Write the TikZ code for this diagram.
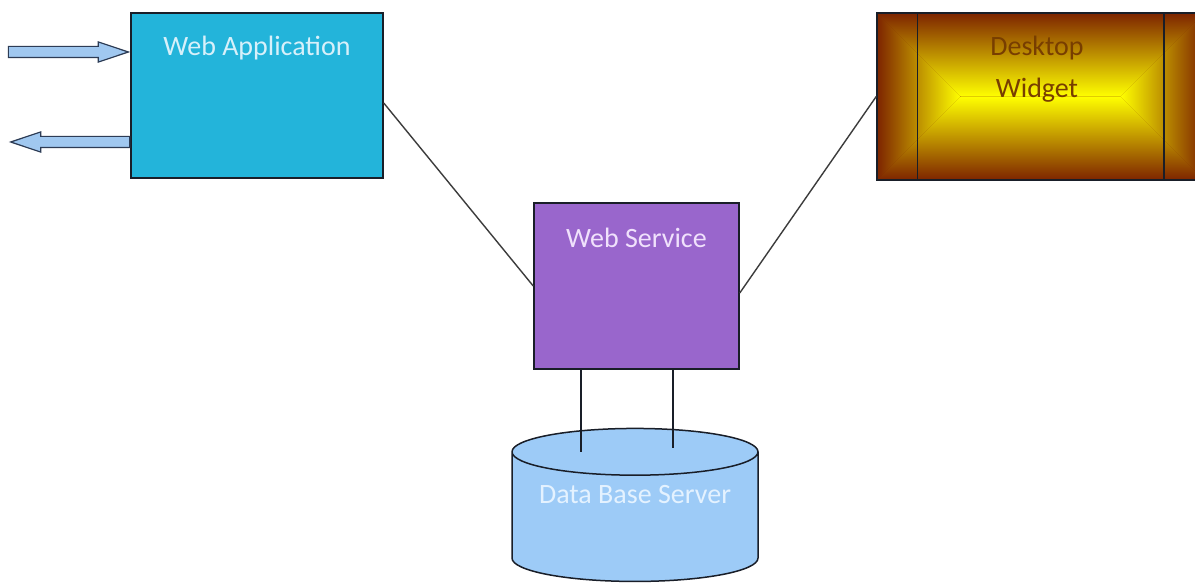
\documentclass[tikz,border=0pt]{standalone}
\usepackage{fontspec}
\setmainfont{Carlito}
\usepackage{tikz}
\usetikzlibrary{shapes.geometric, shapes.arrows, calc}

\definecolor{appcyan}{RGB}{35,180,218}
\definecolor{apptext}{RGB}{215,240,250}
\definecolor{srvpurple}{RGB}{153,102,204}
\definecolor{srvtext}{RGB}{240,225,252}
\definecolor{dbblue}{RGB}{157,203,247}
\definecolor{dbtext}{RGB}{228,242,255}
\definecolor{widgetdark}{RGB}{125,36,0}
\definecolor{widgetmid}{RGB}{195,115,0}
\definecolor{widgetyellow}{RGB}{255,255,0}
\definecolor{widgettext}{RGB}{120,62,0}
\definecolor{arrowblue}{RGB}{160,200,240}
\definecolor{arrowedge}{RGB}{45,60,85}
\definecolor{boxedge}{RGB}{25,30,40}
\definecolor{wirecol}{RGB}{60,60,60}

\tikzset{
	box/.style={draw=boxedge, line width=0.75pt, rectangle, inner sep=0pt},
	boxtext/.style={font=\fontsize{14}{21}\selectfont, anchor=base, inner sep=0pt, align=center},
	fatarrow/.style={single arrow, draw=arrowedge, fill=arrowblue, line width=0.6pt, inner sep=0pt,
		text height=2.5pt, text depth=2.5pt, single arrow head extend=2.25pt, single arrow tip angle=37},
	wire/.style={draw=wirecol, line width=0.7pt},
	stub/.style={draw=boxedge, line width=0.7pt},
}

\begin{document}
\begin{tikzpicture}[x=0.5pt, y=-0.5pt]

		\path[use as bounding box, fill=white] (0,0) rectangle (1195,583);

		\node[box, fill=appcyan, minimum width=126pt, minimum height=82.5pt] (webapp) at (257,95.5) {};
		\node[boxtext, text=apptext] (webapptext) at ([yshift=-21.75pt]webapp.north) {Web Application};

		\node[fatarrow, minimum height=60pt, anchor=tip] (inarrow) at (webapp.west |- 0,52) {};
		\node[fatarrow, minimum height=59.5pt, shape border rotate=180, anchor=tail] (outarrow) at (webapp.west |- 0,142) {};

		\node[box, fill=srvpurple, minimum width=102.5pt, minimum height=83pt] (websrv) at (636.5,286) {};
		\node[boxtext, text=srvtext] (websrvtext) at ([yshift=-22.5pt]websrv.north) {Web Service};

		\node[box, fill=widgetdark, minimum width=163.5pt, minimum height=83.5pt, path picture={
			\coordinate (pa) at (path picture bounding box.north west);
			\coordinate (pb) at (path picture bounding box.north east);
			\coordinate (pc) at (path picture bounding box.south east);
			\coordinate (pd) at (path picture bounding box.south west);
			\coordinate (pl) at ($(path picture bounding box.west)+(41.75pt,0pt)$);
			\coordinate (pr) at ($(path picture bounding box.east)+(-41.75pt,0pt)$);
			\begin{scope}
				\clip (pa) -- (pb) -- (pr) -- (pl) -- cycle;
				\shade[top color=widgetdark, middle color=widgetmid, bottom color=widgetyellow] (pa) rectangle (pr -| pb);
			\end{scope}
			\begin{scope}
				\clip (pd) -- (pl) -- (pr) -- (pc) -- cycle;
				\shade[top color=widgetyellow, middle color=widgetmid, bottom color=widgetdark] (pl -| pa) rectangle (pc);
			\end{scope}
			\begin{scope}
				\clip (pa) -- (pl) -- (pd) -- cycle;
				\shade[left color=widgetdark, middle color=widgetmid, right color=widgetyellow] (pa) rectangle (pl |- pd);
			\end{scope}
			\begin{scope}
				\clip (pb) -- (pc) -- (pr) -- cycle;
				\shade[left color=widgetyellow, middle color=widgetmid, right color=widgetdark] (pr |- pb) rectangle (pc);
			\end{scope}
		}] (widget) at (1040.5,96.5) {};
		\draw[box] ([xshift=20.5pt]widget.north west) -- ([xshift=20.5pt]widget.south west);
		\draw[box] ([xshift=-20.5pt]widget.north east) -- ([xshift=-20.5pt]widget.south east);
		\node[boxtext, text=widgettext] (widgettext) at ([xshift=-1.75pt, yshift=-42.5pt]widget.north) {Desktop\\Widget};

		\node[cylinder, shape border rotate=90, aspect=0.19, draw=boxedge, line width=0.75pt, fill=dbblue,
			text width=123pt, minimum height=76.5pt, inner sep=0pt] (dbserver) at (635,517) {};
		\node[boxtext, text=dbtext] (dbtext) at ([yshift=7pt]dbserver.center) {Data Base Server};

		\coordinate (dbl) at (581,452);
		\coordinate (dbr) at (673,448);

		\draw[wire] ([yshift=-3.75pt]webapp.east) -- (websrv.west);
		\draw[wire] (widget.west) -- ([yshift=-3.5pt]websrv.east);
		\draw[stub] (websrv.south -| dbl) -- (dbl);
		\draw[stub] (websrv.south -| dbr) -- (dbr);
	\end{tikzpicture}
\end{document}
